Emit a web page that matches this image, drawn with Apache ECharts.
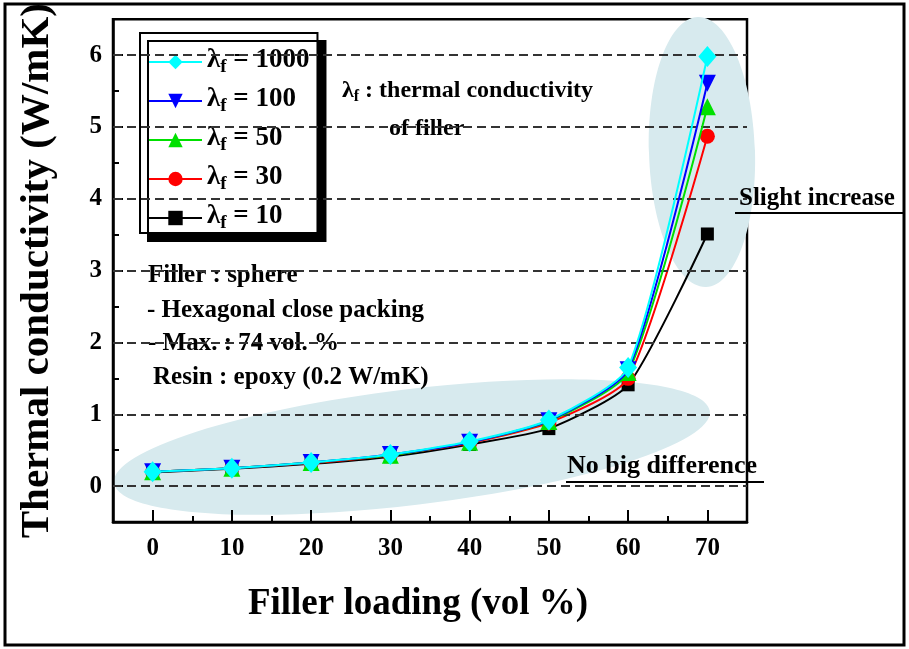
<!DOCTYPE html>
<html>
<head>
<meta charset="utf-8">
<script src="https://cdn.jsdelivr.net/npm/echarts@6/dist/echarts.min.js"></script>
<style>
  html, body { margin: 0; padding: 0; background: #fff; }
  #chart { width: 909px; height: 649px; }
</style>
</head>
<body>
<div id="chart"></div>
<script>
// Filler loading (vol %) and thermal conductivity (W/mK) of the composite
const fillerLoading = [0, 10, 20, 30, 40, 50, 60, 70];
const lambda10   = [0.19, 0.24, 0.31, 0.41, 0.58, 0.80, 1.41, 3.51];
const lambda30   = [0.20, 0.25, 0.32, 0.43, 0.60, 0.88, 1.50, 4.87];
const lambda50   = [0.20, 0.25, 0.33, 0.43, 0.61, 0.90, 1.58, 5.28];
const lambda100  = [0.20, 0.25, 0.33, 0.44, 0.61, 0.91, 1.62, 5.61];
const lambda1000 = [0.20, 0.25, 0.33, 0.44, 0.62, 0.92, 1.65, 5.98];

// Axis tick labels and dashed reference levels
const xTickLabels = [0, 10, 20, 30, 40, 50, 60, 70];
const yTickLabels = [0, 1, 2, 3, 4, 5, 6];
const gridLevels = [0, 1, 2, 3, 4, 5, 6];

const FONT = '"Liberation Serif", "Times New Roman", serif';

const chart = echarts.init(document.getElementById('chart'), null, { renderer: 'canvas' });

function toPairs(values) {
  return fillerLoading.map((x, i) => [x, values[i]]);
}

// Drawn bottom-up: lambda = 1000 ends up on top
const seriesDefs = [
  { name: 'λf = 10',   values: lambda10,   color: '#000000', symbol: 'rect',     size: 13, rotate: 0 },
  { name: 'λf = 30',   values: lambda30,   color: '#ff0000', symbol: 'circle',   size: 15, rotate: 0 },
  { name: 'λf = 50',   values: lambda50,   color: '#00e000', symbol: 'triangle', size: 17, rotate: 0 },
  { name: 'λf = 100',  values: lambda100,  color: '#0000ff', symbol: 'triangle', size: 17, rotate: 180 },
  { name: 'λf = 1000', values: lambda1000, color: '#00ffff', symbol: 'diamond',  size: [18, 21], rotate: 0 }
];

const series = seriesDefs.map((d, i) => {
  const s = {
    name: d.name,
    type: 'line',
    data: toPairs(d.values),
    smooth: 0.2,
    symbol: d.symbol,
    symbolSize: d.size,
    symbolRotate: d.rotate,
    showAllSymbol: true,
    itemStyle: { color: d.color },
    lineStyle: { color: d.color, width: 2 },
    emphasis: { disabled: true },
    animation: false,
    z: 3 + i
  };
  if (i === 0) {
    s.markLine = {
      silent: true,
      symbol: ['none', 'none'],
      label: { show: false },
      animation: false,
      lineStyle: { type: [9, 5], color: '#333', width: 1.8 },
      data: gridLevels.map(v => ({ yAxis: v }))
    };
  }
  return s;
});

const boldText = (size) => ({ fontFamily: FONT, fontWeight: 'bold', fontSize: size, color: '#000' });

const option = {
  backgroundColor: '#fff',
  animation: false,
  grid: {
    left: 113, right: 162, top: 16, bottom: 127,
    show: true, borderColor: '#000', borderWidth: 2.5, backgroundColor: 'transparent'
  },
  legend: {
    data: ['λf = 1000', 'λf = 100', 'λf = 50', 'λf = 30', 'λf = 10'],
    orient: 'vertical',
    left: 140, top: 33,
    padding: [14, 8, 0, 8],
    itemGap: 9,
    itemWidth: 53,
    itemHeight: 18,
    backgroundColor: '#fff',
    borderColor: '#000',
    borderWidth: 2,
    shadowColor: '#000',
    shadowBlur: 0,
    shadowOffsetX: 8,
    shadowOffsetY: 8,
    selectedMode: false,
    formatter: function (name) {
      return '{l|λ}{s|f}{t| = ' + name.split(' = ')[1] + '}';
    },
    textStyle: {
      rich: {
        l: { fontFamily: FONT, fontWeight: 'bold', fontSize: 27, color: '#000', lineHeight: 30, verticalAlign: 'top' },
        s: { fontFamily: FONT, fontWeight: 'bold', fontSize: 19, color: '#000', lineHeight: 30, verticalAlign: 'bottom' },
        t: { fontFamily: FONT, fontWeight: 'bold', fontSize: 27, color: '#000', lineHeight: 30, verticalAlign: 'top' }
      }
    }
  },
  xAxis: [
    {
      type: 'value', min: -5, max: 75, interval: 5,
      name: 'Filler loading (vol %)', nameLocation: 'middle', nameGap: 64,
      nameTextStyle: { ...boldText(37), padding: [0, 24, 0, 0] },
      axisLine: { show: true, onZero: false, lineStyle: { color: '#000', width: 2.5 } },
      axisTick: { show: true, inside: true, length: 12, customValues: xTickLabels, lineStyle: { color: '#000', width: 2 } },
      axisLabel: { customValues: xTickLabels, margin: 14, ...boldText(25) },
      splitLine: { show: false }
    },
    {
      type: 'value', min: -5, max: 75, interval: 5, position: 'bottom',
      axisLine: { show: false, onZero: false },
      axisTick: { show: true, inside: true, length: 6, lineStyle: { color: '#000', width: 2 } },
      axisLabel: { show: false },
      splitLine: { show: false }
    }
  ],
  yAxis: [
    {
      type: 'value', min: -0.5, max: 6.5, interval: 0.5,
      name: 'Thermal conductivity (W/mK)', nameLocation: 'middle', nameGap: 55,
      nameTextStyle: boldText(41),
      axisLine: { show: true, onZero: false, lineStyle: { color: '#000', width: 2.5 } },
      axisTick: { show: true, inside: true, length: 10, customValues: yTickLabels, lineStyle: { color: '#000', width: 2 } },
      axisLabel: { customValues: yTickLabels, margin: 11, ...boldText(25) },
      splitLine: { show: false }
    },
    {
      type: 'value', min: -0.5, max: 6.5, interval: 0.5, position: 'left',
      axisLine: { show: false, onZero: false },
      axisTick: { show: true, inside: true, length: 6, lineStyle: { color: '#000', width: 2 } },
      axisLabel: { show: false },
      splitLine: { show: false }
    }
  ],
  series: series,
  graphic: [
    // outer frame
    { type: 'rect', shape: { x: 5, y: 4, width: 899, height: 641 },
      style: { fill: 'none', stroke: '#000', lineWidth: 3 }, z: 0, silent: true },
    // highlighted regions
    { type: 'ellipse', x: 412, y: 447, rotation: 0.12, shape: { cx: 0, cy: 0, rx: 300, ry: 58 },
      style: { fill: '#d7eaee' }, z: 0, silent: true },
    { type: 'ellipse', x: 702, y: 152, rotation: 0.03, shape: { cx: 0, cy: 0, rx: 53, ry: 135 },
      style: { fill: '#d7eaee' }, z: 0, silent: true },
    // notes
    { type: 'text', x: 342, y: 92, z: 5, silent: true,
      style: {
        text: '{l|λ}{s|f}{t| : thermal conductivity}',
        verticalAlign: 'middle', align: 'left',
        rich: {
          l: { fontFamily: FONT, fontWeight: 'bold', fontSize: 24, fill: '#000', lineHeight: 26, verticalAlign: 'top' },
          s: { fontFamily: FONT, fontWeight: 'bold', fontSize: 16, fill: '#000', lineHeight: 26, verticalAlign: 'bottom' },
          t: { fontFamily: FONT, fontWeight: 'bold', fontSize: 24, fill: '#000', lineHeight: 26, verticalAlign: 'top' }
        }
      } },
    { type: 'text', x: 389, y: 129, z: 5, silent: true,
      style: { text: 'of filler', font: 'bold 24px ' + FONT, fill: '#000', verticalAlign: 'middle' } },
    { type: 'text', x: 148, y: 276, z: 5, silent: true,
      style: { text: 'Filler : sphere', font: 'bold 25px ' + FONT, fill: '#000', verticalAlign: 'middle' } },
    { type: 'text', x: 147, y: 311, z: 5, silent: true,
      style: { text: '- Hexagonal close packing', font: 'bold 25px ' + FONT, fill: '#000', verticalAlign: 'middle' } },
    { type: 'text', x: 148, y: 344, z: 5, silent: true,
      style: { text: '- Max. : 74 vol. %', font: 'bold 25px ' + FONT, fill: '#000', verticalAlign: 'middle' } },
    { type: 'text', x: 153, y: 378, z: 5, silent: true,
      style: { text: 'Resin : epoxy (0.2 W/mK)', font: 'bold 25px ' + FONT, fill: '#000', verticalAlign: 'middle' } },
    { type: 'text', x: 739, y: 199, z: 5, silent: true,
      style: { text: 'Slight increase', font: 'bold 25px ' + FONT, fill: '#000', verticalAlign: 'middle' } },
    { type: 'line', shape: { x1: 735, y1: 213, x2: 905, y2: 213 }, z: 5, silent: true,
      style: { stroke: '#000', lineWidth: 2 } },
    { type: 'text', x: 567, y: 466, z: 5, silent: true,
      style: { text: 'No big difference', font: 'bold 26px ' + FONT, fill: '#000', verticalAlign: 'middle' } },
    { type: 'line', shape: { x1: 566, y1: 482, x2: 764, y2: 482 }, z: 5, silent: true,
      style: { stroke: '#000', lineWidth: 2 } }
  ]
};

chart.setOption(option);
</script>
</body>
</html>
